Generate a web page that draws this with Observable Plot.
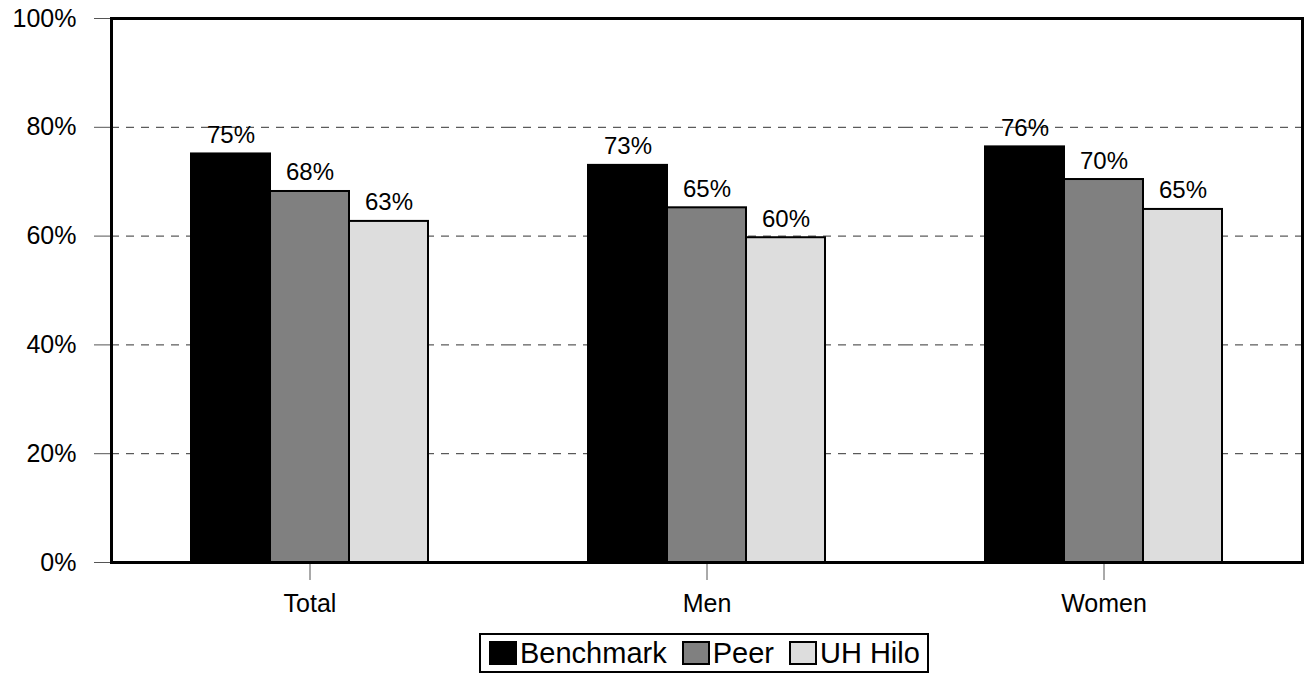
<!DOCTYPE html>
<html>
<head>
<meta charset="utf-8">
<script src="https://cdn.jsdelivr.net/npm/d3@7"></script>
<script src="https://cdn.jsdelivr.net/npm/@observablehq/plot@0.6"></script>
<style>
  body { margin: 0; background: #fff; font-family: 'Liberation Sans', Arial, sans-serif; }
  #chart svg { display: block; }
  .legend {
    margin-left: 479px; margin-top: 5px; width: fit-content;
    border: 2px solid #000; box-sizing: border-box; height: 40px;
    display: flex; align-items: center; padding: 0 7px 0 8px;
    font-size: 29px; color: #000; line-height: 1;
  }
  .legend .item { display: flex; align-items: center; margin-right: 15px; }
  .legend .item:last-child { margin-right: 0; }
  .legend .sw { width: 24px; height: 20px; border: 2px solid #000; margin-right: 3px; }
</style>
</head>
<body>
<div id="chart"></div>
<script>
const categories = ["Total", "Men", "Women"];
const series = ["Benchmark", "Peer", "UH Hilo"];
const benchmark = [75.1, 73.0, 76.4];
const peer = [68.2, 65.2, 70.4];
const uhHilo = [62.7, 59.7, 64.9];
const yTicks = [0, 20, 40, 60, 80, 100];
const gridTicks = [20, 40, 60, 80];
const colors = ["#000000", "#808080", "#dddddd"];

const seriesValues = [benchmark, peer, uhHilo];
const rows = categories.flatMap((c, i) =>
  series.map((s, j) => ({category: c, series: s, value: seriesValues[j][i]}))
);

const chart = Plot.plot({
  width: 1304,
  height: 628,
  marginLeft: 110,
  marginRight: 2,
  marginTop: 18,
  marginBottom: 66,
  style: {fontFamily: "'Liberation Sans', Arial, sans-serif", fontSize: "25px", color: "#000", background: "#fff"},
  fx: {domain: categories, padding: 0, label: null},
  x: {domain: series, paddingInner: 0, paddingOuter: 1, axis: null},
  y: {domain: [0, 100], label: null},
  color: {domain: series, range: colors},
  marks: [
    Plot.ruleY(gridTicks, {stroke: "#333", strokeDasharray: "8,7", strokeWidth: 1}),
    Plot.barY(rows, {fx: "category", x: "series", y: "value", fill: "series", stroke: "#000", strokeWidth: 2}),
    Plot.text(rows, {fx: "category", x: "series", y: "value", text: d => Math.round(d.value) + "%", lineAnchor: "bottom", dy: -11, fontSize: 24}),
    Plot.axisY({ticks: yTicks, tickFormat: d => d + "%", tickSize: 17, tickPadding: 18, stroke: "#555", label: null}),
    Plot.axisFx({anchor: "bottom", tickSize: 18, tickPadding: 14, stroke: "#555", label: null}),
    Plot.frame({stroke: "#000", strokeWidth: 3, facet: "super"})
  ]
});
document.getElementById("chart").append(chart);

const legend = document.createElement("div");
legend.className = "legend";
series.forEach((s, j) => {
  const item = document.createElement("div");
  item.className = "item";
  const sw = document.createElement("div");
  sw.className = "sw";
  sw.style.background = colors[j];
  const t = document.createElement("span");
  t.textContent = s;
  item.append(sw, t);
  legend.append(item);
});
document.body.append(legend);
</script>
</body>
</html>
